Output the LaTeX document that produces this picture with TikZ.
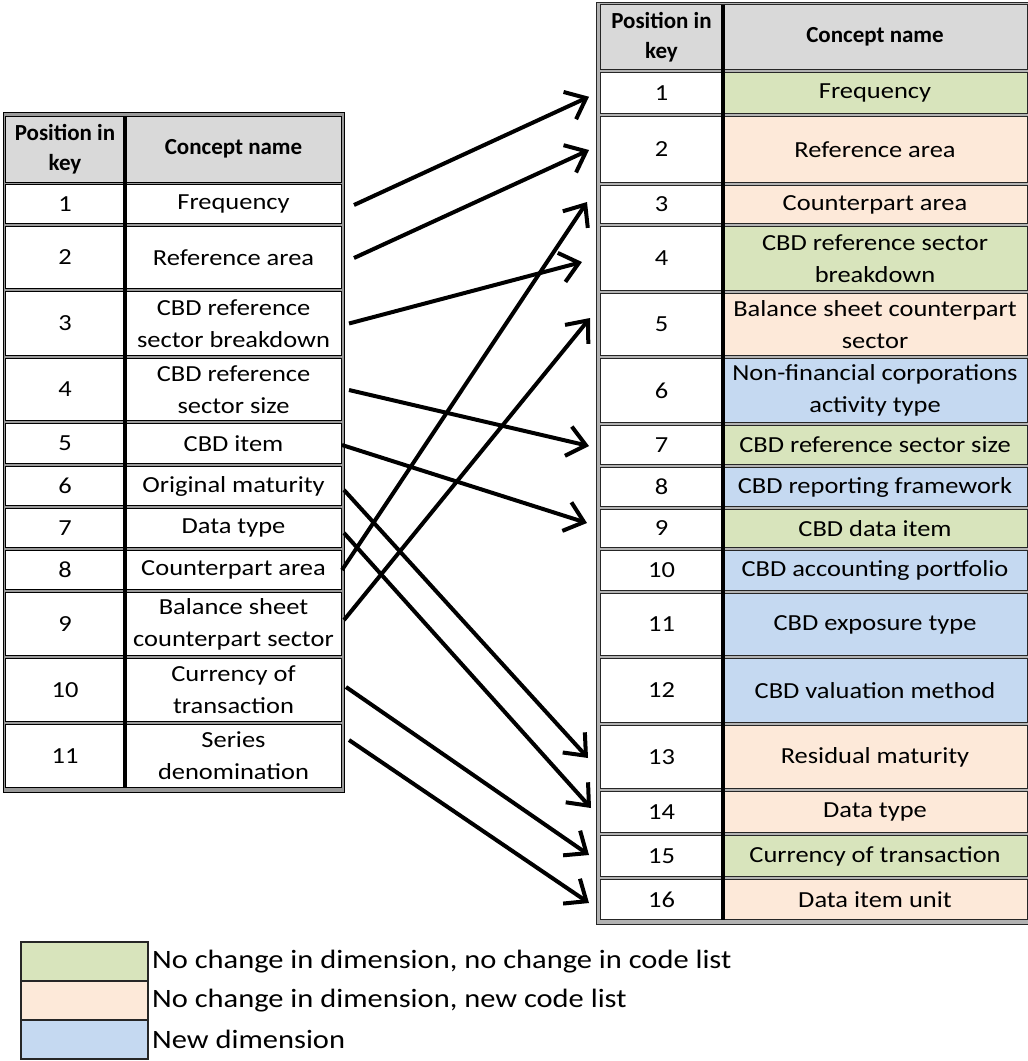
\documentclass[tikz,border=0pt]{standalone}
\usepackage{fontspec}
\setmainfont{Carlito}
\newfontfamily\mytabfam[FakeStretch=1.15]{Carlito}
\usetikzlibrary{arrows.meta}
\definecolor{cgreen}{HTML}{D8E4BC}
\definecolor{cpeach}{HTML}{FDE9D9}
\definecolor{cblue}{HTML}{C5D9F1}
\definecolor{chead}{HTML}{D9D9D9}
\newcommand\mytabfont{\mytabfam\fontsize{23}{32}\selectfont}
\newcommand\myheadfont{\fontsize{23}{30}\selectfont\bfseries}
\newcommand\mylegfont{\mytabfam\fontsize{26.5}{30}\selectfont}
\newcommand\myLrow[4]{%
  \pgfmathsetmacro\myc{(#2+#3)/2}%
  \pgfmathsetmacro\myh{#3-#2-3}%
  \node[lcell, minimum width=120pt, minimum height=\myh pt] (L#1n) at (65,\myc) {#1};
  \node[lcell, minimum width=215pt, minimum height=\myh pt] (L#1) at (233.5,\myc) {#4};
}
\newcommand\myRrow[5]{%
  \pgfmathsetmacro\myc{(#2+#3)/2}%
  \pgfmathsetmacro\myh{#3-#2-3}%
  \node[rcell, fill=white, minimum width=123pt, minimum height=\myh pt] (R#1n) at (661.5,\myc) {#1};
  \node[rcell, fill=#5, minimum width=304pt, minimum height=\myh pt] (R#1) at (875,\myc) {#4};
}
\begin{document}
\begin{tikzpicture}[x=1pt,y=-1pt,
  lcell/.style={draw=black, line width=0.8pt, fill=white, inner sep=0pt, outer sep=0pt, align=center, font=\mytabfont},
  rcell/.style={draw=black!85, line width=0.8pt, inner sep=0pt, outer sep=0pt, align=center, font=\mytabfont},
  hcell/.style={font=\myheadfont, fill=chead},
  divider/.style={line width=4pt, black},
  arr/.style={line width=4pt, -{Straight Barb[length=18pt,width=30pt]}},
  legbox/.style={draw=black!85, line width=1.8pt, minimum width=127pt, minimum height=39pt, inner sep=0pt, outer sep=0pt},
  legtext/.style={anchor=west, font=\mylegfont, inner sep=0pt}
]
\useasboundingbox (0,0) rectangle (1028,1061);
\fill[white] (0,0) rectangle (1028,1061);

% ---------- left table ----------
\filldraw[fill=black!40, draw=black, line width=1pt] (3,112) rectangle (344,792);
\pgfmathsetmacro\myc{(115+183)/2}
\node[lcell, hcell, minimum width=120pt, minimum height=66pt] (LHn) at (65,\myc) {Position in\\key};
\node[lcell, hcell, minimum width=215pt, minimum height=66pt] (LH) at (233.5,\myc) {Concept name};
\myLrow{1}{183}{225}{Frequency}
\myLrow{2}{225}{290}{Reference area}
\myLrow{3}{290}{357}{CBD reference\\sector breakdown}
\myLrow{4}{357}{422}{CBD reference\\sector size}
\myLrow{5}{422}{465}{CBD item}
\myLrow{6}{465}{507}{Original maturity}
\myLrow{7}{507}{549}{Data type}
\myLrow{8}{549}{591}{Counterpart area}
\myLrow{9}{591}{657}{Balance sheet\\counterpart sector}
\myLrow{10}{657}{723}{Currency of\\transaction}
\myLrow{11}{723}{789}{Series\\denomination}
\draw[divider] (LHn.north east) -- (L11n.south east);

% ---------- right table ----------
\filldraw[fill=black!30, draw=black!85, line width=1pt] (596,2) rectangle (1032,924);
\pgfmathsetmacro\myc{(3+70.5)/2}
\node[rcell, hcell, minimum width=123pt, minimum height=64.5pt] (RHn) at (661.5,\myc) {Position in\\key};
\node[rcell, hcell, minimum width=304pt, minimum height=64.5pt] (RH) at (875,\myc) {Concept name};
\myRrow{1}{70.5}{115}{Frequency}{cgreen}
\myRrow{2}{115}{184}{Reference area}{cpeach}
\myRrow{3}{184}{225}{Counterpart area}{cpeach}
\myRrow{4}{225}{292}{CBD reference sector\\breakdown}{cgreen}
\myRrow{5}{292}{357}{Balance sheet counterpart\\sector}{cpeach}
\myRrow{6}{357}{424}{Non-financial corporations\\activity type}{cblue}
\myRrow{7}{424}{466}{CBD reference sector size}{cgreen}
\myRrow{8}{466}{508}{CBD reporting framework}{cblue}
\myRrow{9}{508}{549}{CBD data item}{cgreen}
\myRrow{10}{549}{592}{CBD accounting portfolio}{cblue}
\myRrow{11}{592}{657}{CBD exposure type}{cblue}
\myRrow{12}{657}{724}{CBD valuation method}{cblue}
\myRrow{13}{724}{790}{Residual maturity}{cpeach}
\myRrow{14}{790}{834}{Data type}{cpeach}
\myRrow{15}{834}{878}{Currency of transaction}{cgreen}
\myRrow{16}{878}{921}{Data item unit}{cpeach}
\draw[divider] (RHn.north east) -- (R16n.south east);

% ---------- arrows ----------
\draw[arr] ([shift={(13,1)}]L1.east) -- ([shift={(-11,4)}]R1n.west);
\draw[arr] ([shift={(13,0.5)}]L2.east) -- ([shift={(-11,0.5)}]R2n.west);
\draw[arr] ([shift={(8,0)}]L3.east) -- ([shift={(-18,3.5)}]R4n.west);
\draw[arr] ([shift={(1,0)}]L8.east) -- ([shift={(-13,-2.5)}]R3n.west);
\draw[arr] ([shift={(3,-4)}]L9.east) -- ([shift={(-10,-6.5)}]R5n.west);
\draw[arr] ([shift={(8,0.5)}]L4.east) -- ([shift={(-11,1)}]R7n.west);
\draw[arr] ([shift={(1,1.5)}]L5.east) -- ([shift={(-13,-5.5)}]R9n.west);
\draw[arr] ([shift={(3,4)}]L6.east) -- ([shift={(-12,1)}]R13n.west);
\draw[arr] ([shift={(3,5)}]L7.east) -- ([shift={(-9,-4)}]R14n.west);
\draw[arr] ([shift={(5,-3)}]L10.east) -- ([shift={(-11,-1)}]R15n.west);
\draw[arr] ([shift={(8,-16)}]L11.east) -- ([shift={(-11,3.5)}]R16n.west);

% ---------- legend ----------
\node[legbox, fill=cgreen] (G1) at (84.5,961.5) {};
\node[legbox, fill=cpeach] (G2) at (84.5,1000.5) {};
\node[legbox, fill=cblue] (G3) at (84.5,1039.5) {};
\node[legtext] (T1) at ([xshift=4pt]G1.east) {No change in dimension, no change in code list};
\node[legtext] (T2) at ([xshift=4pt]G2.east) {No change in dimension, new code list};
\node[legtext] (T3) at ([xshift=4pt]G3.east) {New dimension};
\end{tikzpicture}
\end{document}
